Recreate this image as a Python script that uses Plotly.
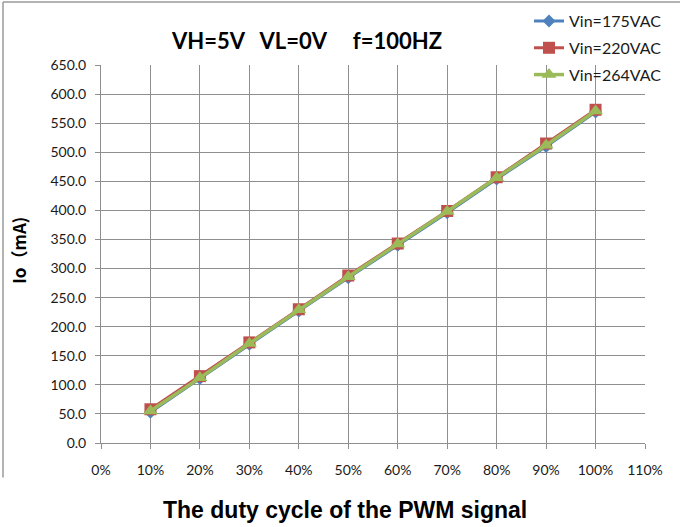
import plotly.graph_objects as go

duty = [0.1, 0.2, 0.3, 0.4, 0.5, 0.6, 0.7, 0.8, 0.9, 1.0]
io_175 = [53, 111, 170, 227, 284, 340, 396, 454, 510, 569]
io_220 = [58, 115, 173, 230, 288, 343, 399, 457, 515, 573]
io_264 = [55, 112, 171, 229, 286, 342, 398, 456, 512, 571]
x_ticks = [0, 0.1, 0.2, 0.3, 0.4, 0.5, 0.6, 0.7, 0.8, 0.9, 1.0, 1.1]
y_ticks = list(range(0, 651, 50))

W, H = 680, 527
L, R, T, B = 101, 35, 65, 83.5
pw = W - L - R
ph = H - T - B

def px2x(px):
    return (px - L) / pw

def px2y(py):
    return (H - B - py) / ph

grid = "#8f8f8f"
font_main = "Lato, Calibri, Open Sans, Noto Sans CJK SC, sans-serif"

fig = go.Figure()
fig.add_trace(go.Scatter(x=duty, y=io_175, name="Vin=175VAC", mode="lines+markers",
                         line=dict(color="#4F81BD", width=3),
                         marker=dict(symbol="diamond", size=10, color="#4F81BD"),
                         legendgroup="a"))
fig.add_trace(go.Scatter(x=duty, y=io_220, name="Vin=220VAC", mode="lines+markers",
                         line=dict(color="#C0504D", width=3),
                         marker=dict(symbol="square", size=12, color="#C0504D"),
                         legendgroup="b"))
fig.add_trace(go.Scatter(x=duty, y=io_264, name="Vin=264VAC", mode="lines+markers",
                         line=dict(color="#9BBB59", width=3.5),
                         marker=dict(symbol="triangle-up", size=13, color="#9BBB59"),
                         legendgroup="c"))

fig.update_layout(
    width=W, height=H,
    margin=dict(l=L, r=R, t=T, b=B, autoexpand=False),
    paper_bgcolor="white", plot_bgcolor="white",
    font=dict(family=font_main, size=14, color="#1a1a1a"),
    showlegend=True,
    legend=dict(x=px2x(529), y=px2y(4), xanchor="left", yanchor="top",
                font=dict(family=font_main, size=16, color="#1a1a1a"),
                bgcolor="rgba(0,0,0,0)", tracegroupgap=3, traceorder="grouped"),
    xaxis=dict(range=[0, 1.1], tickvals=x_ticks, tickformat=".0%",
               showgrid=True, gridcolor=grid, gridwidth=1,
               showline=True, linecolor=grid, linewidth=1, mirror=False,
               ticks="outside", ticklen=5, tickcolor=grid, zeroline=False,
               tickfont=dict(size=14), fixedrange=True, ticklabelstandoff=9,
               automargin=False),
    yaxis=dict(range=[0, 650], tickvals=y_ticks, tickformat=".1f",
               showgrid=True, gridcolor=grid, gridwidth=1,
               showline=True, linecolor=grid, linewidth=1,
               ticks="outside", ticklen=5, tickcolor=grid, zeroline=False,
               tickfont=dict(size=14), fixedrange=True, ticklabelstandoff=6,
               automargin=False),
)

# outer chart border (left + top)
fig.add_shape(type="line", xref="paper", yref="paper",
              x0=px2x(3), x1=px2x(3), y0=px2y(478), y1=px2y(2),
              line=dict(color="#9a9a9a", width=1.5))
fig.add_shape(type="line", xref="paper", yref="paper",
              x0=px2x(3), x1=px2x(700), y0=px2y(2), y1=px2y(2),
              line=dict(color="#9a9a9a", width=1.5))

sp2 = "\u00a0" * 3
sp3 = "\u00a0" * 5
fig.add_annotation(text="VH=5V" + sp2 + "VL=0V" + sp3 + "f=100HZ",
                   xref="paper", yref="paper", x=px2x(306), y=px2y(40),
                   xanchor="center", yanchor="middle", showarrow=False,
                   font=dict(family=font_main, size=22, color="#000000", weight="bold"))
fig.add_annotation(text="Io\uff08mA)", textangle=-90,
                   xref="paper", yref="paper", x=px2x(19), y=px2y(251),
                   xanchor="center", yanchor="middle", showarrow=False,
                   font=dict(family="Noto Sans CJK SC, Lato, sans-serif", size=17,
                             color="#000000", weight="bold"))
fig.add_annotation(text="The duty cycle of the PWM signal",
                   xref="paper", yref="paper", x=px2x(345), y=px2y(511),
                   xanchor="center", yanchor="middle", showarrow=False,
                   font=dict(family="Liberation Sans Narrow, Arial Narrow, Liberation Sans, Arial",
                             size=23, color="#000000", weight="bold"))

fig.write_html("out.html", post_script="document.body.style.margin='0';",
               config={"displayModeBar": False})
